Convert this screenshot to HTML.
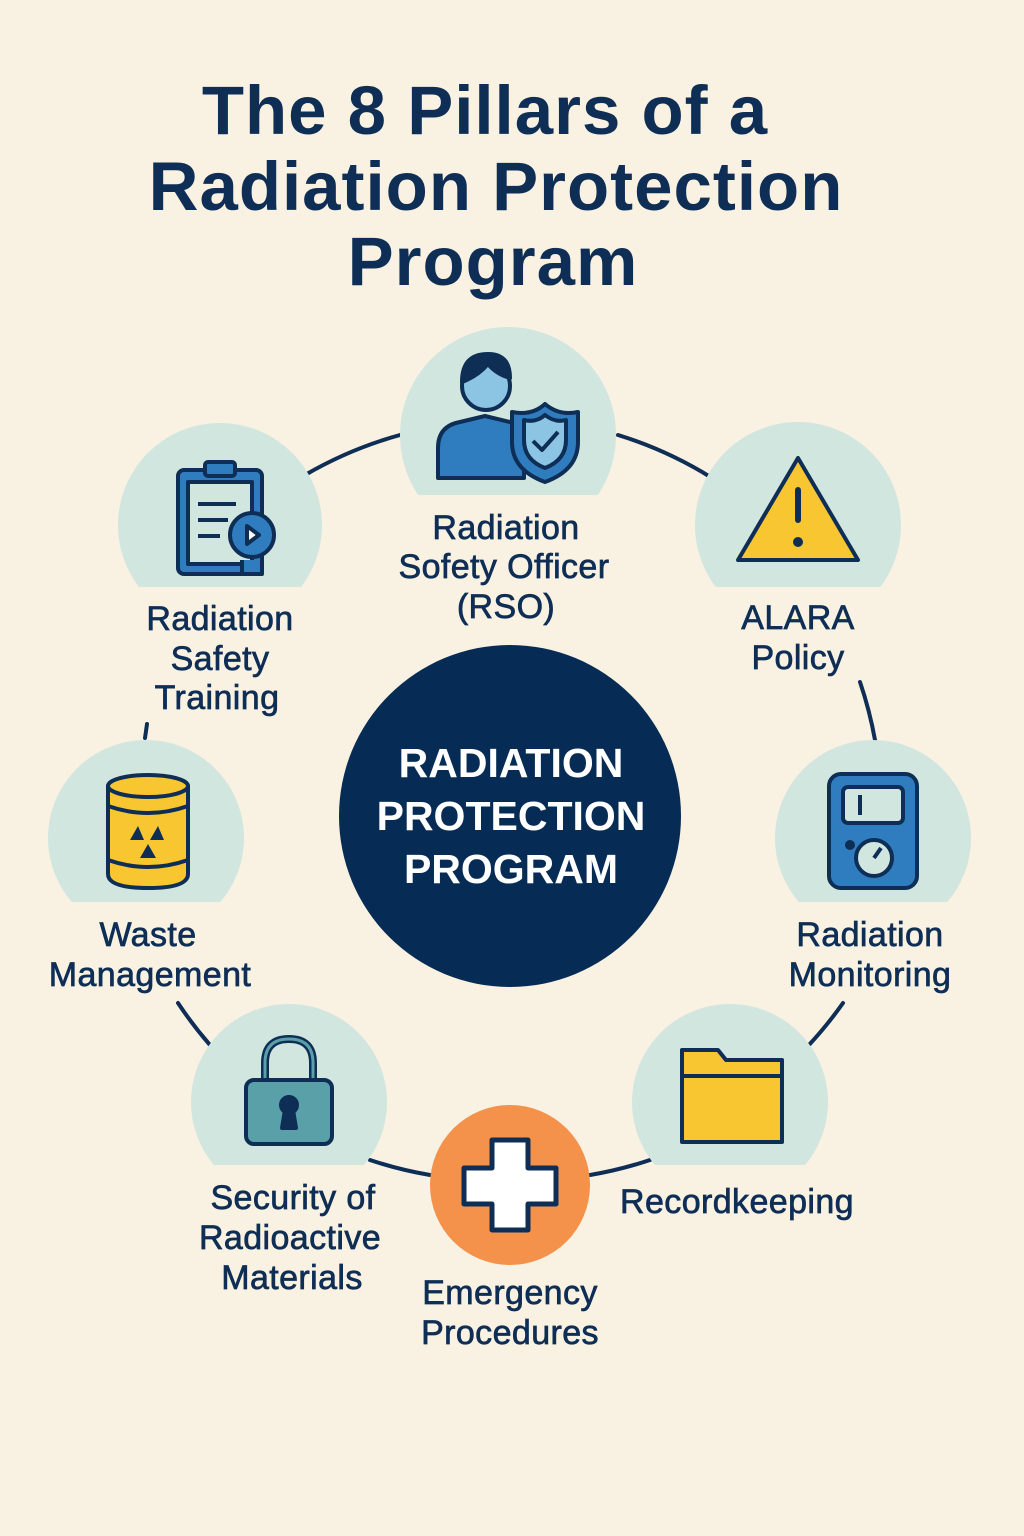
<!DOCTYPE html>
<html><head><meta charset="utf-8"><style>
html,body{margin:0;padding:0;background:#f9f1e2;}
body{width:1024px;height:1536px;position:relative;overflow:hidden;font-family:"Liberation Sans",sans-serif;}
svg{position:absolute;left:0;top:0;}
</style></head><body>
<svg width="1024" height="1536" viewBox="0 0 1024 1536">
<defs>
<clipPath id="c1"><rect x="0" y="0" width="1024" height="495"/></clipPath>
<clipPath id="c2"><rect x="0" y="0" width="1024" height="587"/></clipPath>
<clipPath id="c3"><rect x="0" y="0" width="1024" height="902"/></clipPath>
<clipPath id="c4"><rect x="0" y="0" width="1024" height="1165"/></clipPath>
</defs>
<g font-family="Liberation Sans, sans-serif" font-weight="bold" fill="#0e2e55" text-anchor="middle" font-size="69" letter-spacing="1">
<text x="485" y="134">The 8 Pillars of a</text>
<text x="496" y="210">Radiation Protection</text>
<text x="493" y="285">Program</text>
</g>
<g fill="none" stroke="#0e2e55" stroke-width="4" stroke-linecap="round">
<path d="M305 475 A400 400 0 0 1 400 435"/>
<path d="M618 435 A400 400 0 0 1 712 478"/>
<path d="M860 682 A400 400 0 0 1 875 740"/>
<path d="M843 1003 A400 400 0 0 1 808 1046"/>
<path d="M650 1160 A400 400 0 0 1 590 1175"/>
<path d="M430 1175 A400 400 0 0 1 370 1160"/>
<path d="M210 1045 A400 400 0 0 1 178 1003"/>
<path d="M147 724 L145 738"/>
</g>
<g fill="#d2e6e0">
<circle cx="508" cy="435" r="108" clip-path="url(#c1)"/>
<circle cx="220" cy="525" r="102" clip-path="url(#c2)"/>
<circle cx="798" cy="525" r="103" clip-path="url(#c2)"/>
<circle cx="873" cy="838" r="98" clip-path="url(#c3)"/>
<circle cx="146" cy="838" r="98" clip-path="url(#c3)"/>
<circle cx="730" cy="1102" r="98" clip-path="url(#c4)"/>
<circle cx="289" cy="1102" r="98" clip-path="url(#c4)"/>
</g>
<circle cx="510" cy="816" r="171" fill="#062c55"/>
<g font-family="Liberation Sans, sans-serif" font-weight="bold" fill="#fff" text-anchor="middle" font-size="41">
<text x="511" y="777">RADIATION</text>
<text x="511" y="830">PROTECTION</text>
<text x="511" y="883">PROGRAM</text>
</g>
<circle cx="510" cy="1185" r="80" fill="#f4914a"/>
<path d="M492 1140 h36 v28 h28 v36 h-28 v26 h-36 v-26 h-28 v-36 h28z" fill="#fff" stroke="#0e2e55" stroke-width="5" stroke-linejoin="round"/>
<g stroke="#0e2e55" stroke-width="4" stroke-linejoin="round">
<path d="M438 478 v-30 q0-22 22-26 l25-6 l25 6 q10 2 14 8 v48z" fill="#2f7dbf"/>
<circle cx="486" cy="386" r="24" fill="#8cc5e3"/>
<path d="M462 382 q0-28 26-28 q22 0 22 24 q-14-4-22-14 q-10 12-26 18z" fill="#0e2e55"/>
<path d="M512 412 q20 4 33-8 q14 12 33 8 v30 q0 28-33 40 q-33-12-33-40z" fill="#2f7dbf"/>
<path d="M524 420 q12 3 21-5 q10 8 21 5 v20 q0 20-21 28 q-21-8-21-28z" fill="#8cc5e3"/>
<path d="M533 441 l9 9 l16-18" fill="none"/>
<rect x="178" y="470" width="84" height="104" rx="6" fill="#2f7dbf"/>
<rect x="188" y="482" width="64" height="82" fill="#d2e6e0"/>
<rect x="205" y="462" width="30" height="14" rx="3" fill="#2f7dbf"/>
<path d="M198 504 h38 M198 520 h30 M198 536 h22" fill="none"/>
<circle cx="252" cy="535" r="22" fill="#2f7dbf"/>
<path d="M242 560 v14 h20 v-14" fill="#2f7dbf"/>
<path d="M247 526 l12 9 l-12 9z" fill="#fff"/>
<path d="M798 458 l60 102 h-120z" fill="#f8c630"/>
<path d="M798 490 v30" stroke-width="6" stroke-linecap="round"/>
<circle cx="798" cy="542" r="3" fill="#0e2e55"/>
<rect x="829" y="774" width="88" height="114" rx="12" fill="#2f7dbf"/>
<rect x="843" y="787" width="60" height="36" rx="5" fill="#d2e6e0"/>
<path d="M860 795 v20" fill="none"/>
<circle cx="874" cy="858" r="18" fill="#d2e6e0"/>
<path d="M874 858 l7-10" fill="none"/>
<circle cx="850" cy="845" r="3" fill="#0e2e55"/>
<path d="M108 786 v88 q0 14 40 14 q40 0 40-14 v-88z" fill="#f8c630"/>
<ellipse cx="148" cy="786" rx="40" ry="11" fill="#f8c630"/>
<path d="M108 806 q40 14 80 0 M108 860 q40 14 80 0" fill="none"/>
<path d="M138 826 l-8 14 h14z M158 826 l-8 14 h14z M148 844 l-8 14 h16z" fill="#0e2e55" stroke="none"/>
<path d="M682 1142 v-92 h36 l8 10 h56 v82z" fill="#f8c630"/>
<path d="M682 1076 h100" fill="none"/>
<path d="M265 1085 v-22 q0-24 24-24 q24 0 24 24 v22" fill="none" stroke-width="8"/>
<path d="M265 1085 v-22 q0-24 24-24 q24 0 24 24 v22" fill="none" stroke="#5aa0a8" stroke-width="3"/>
<rect x="246" y="1080" width="86" height="64" rx="8" fill="#5aa0a8"/>
<circle cx="289" cy="1105" r="8" fill="#0e2e55"/>
<path d="M285 1110 h8 l3 18 h-14z" fill="#0e2e55"/>
</g>
<g font-family="Liberation Sans, sans-serif" fill="#0e2e55" stroke="#0e2e55" stroke-width="0.7" text-anchor="middle" font-size="34" letter-spacing="0.4">
<text x="506" y="539">Radiation</text>
<text x="504" y="578">Sofety Officer</text>
<text x="506" y="618">(RSO)</text>
<text x="220" y="630">Radiation</text>
<text x="220" y="670">Safety</text>
<text x="217" y="709">Training</text>
<text x="798" y="629">ALARA</text>
<text x="798" y="669">Policy</text>
<text x="870" y="946">Radiation</text>
<text x="870" y="986">Monitoring</text>
<text x="148" y="946">Waste</text>
<text x="150" y="986">Management</text>
<text x="737" y="1213">Recordkeeping</text>
<text x="293" y="1209">Security of</text>
<text x="290" y="1249">Radioactive</text>
<text x="292" y="1289">Materials</text>
<text x="510" y="1304">Emergency</text>
<text x="510" y="1344">Procedures</text>
</g>
</svg>
</body></html>
